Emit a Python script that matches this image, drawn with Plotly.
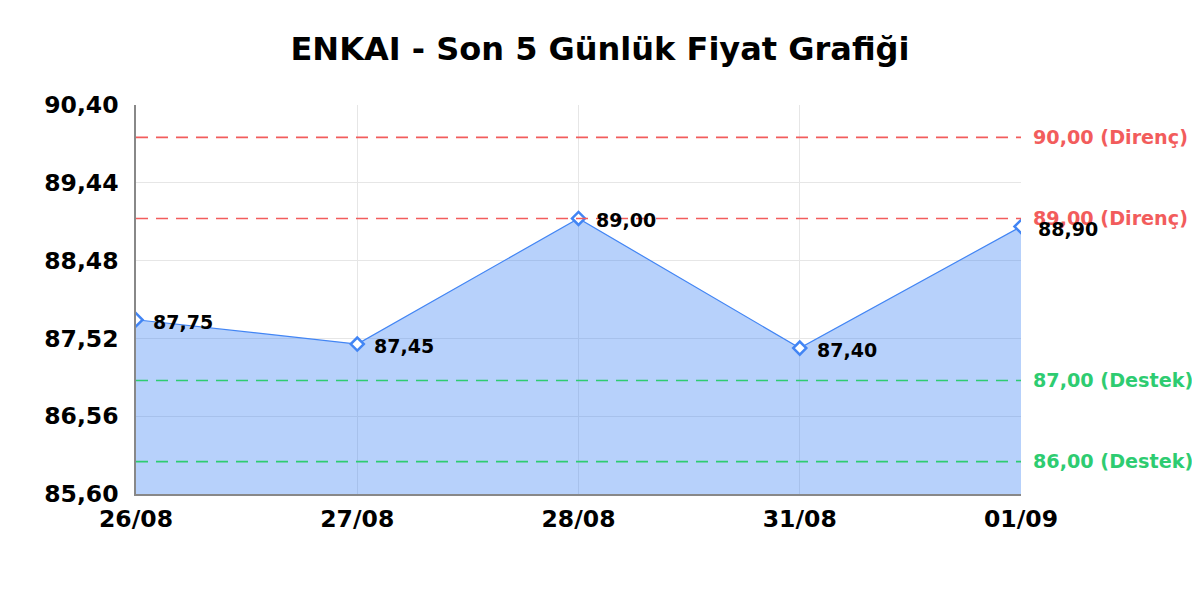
import plotly.graph_objects as go

dates = ["26/08", "27/08", "28/08", "31/08", "01/09"]
prices = [87.75, 87.45, 89.00, 87.40, 88.90]
resistance = [90.00, 89.00]
support = [87.00, 86.00]
y_ticks = [85.60, 86.56, 87.52, 88.48, 89.44, 90.40]

FONT = "DejaVu Sans"
RED = "#f25c5c"
GREEN = "#2ecc71"
BLUE = "#4285f4"

def tr(v):
    return f"{v:.2f}".replace(".", ",")

xs = list(range(len(dates)))

fig = go.Figure()
fig.add_trace(go.Scatter(
    x=xs, y=prices, mode="lines+markers",
    line=dict(color=BLUE, width=1.2),
    fill="tozeroy", fillcolor="rgba(66,133,244,0.38)",
    marker=dict(symbol="diamond", size=10, color="white",
                line=dict(color=BLUE, width=2.5)),
    hoverinfo="skip", showlegend=False,
))

shapes = []
annotations = []
for lvl in resistance:
    shapes.append(dict(type="line", xref="paper", x0=0, x1=1, yref="y", y0=lvl, y1=lvl,
                       line=dict(color=RED, width=1.6, dash="12px,8px"), layer="above"))
    annotations.append(dict(xref="paper", x=1, yref="y", y=lvl, xanchor="left", xshift=10,
                            text=f"<b>{tr(lvl)} (Direnç)</b>", showarrow=False,
                            font=dict(family=FONT, size=19.2, color=RED)))
for lvl in support:
    shapes.append(dict(type="line", xref="paper", x0=0, x1=1, yref="y", y0=lvl, y1=lvl,
                       line=dict(color=GREEN, width=1.6, dash="12px,8px"), layer="above"))
    annotations.append(dict(xref="paper", x=1, yref="y", y=lvl, xanchor="left", xshift=10,
                            text=f"<b>{tr(lvl)} (Destek)</b>", showarrow=False,
                            font=dict(family=FONT, size=19.2, color=GREEN)))
for x, p in zip(xs, prices):
    annotations.append(dict(x=x, y=p, xref="x", yref="y", xanchor="left", xshift=15, yshift=-2,
                            text=f"<b>{tr(p)}</b>", showarrow=False,
                            font=dict(family=FONT, size=19, color="black")))

fig.update_layout(
    width=1200, height=600,
    margin=dict(l=128, r=187, t=97, b=114),
    paper_bgcolor="white", plot_bgcolor="white",
    title=dict(text="<b>ENKAI - Son 5 Günlük Fiyat Grafiği</b>", x=(600 - 8) / 1200, xref="container",
               xanchor="center", y=1 - 41 / 600, yanchor="middle",
               font=dict(family=FONT, size=32, color="black")),
    shapes=shapes, annotations=annotations,
    xaxis=dict(range=[0, len(dates) - 1], tickvals=xs, ticktext=[f"<b>{d}</b>" for d in dates],
               showgrid=True, gridcolor="#e6e6e6", gridwidth=1,
               showline=True, linecolor="#888888", linewidth=1.5, zeroline=False,
               ticks="", tickfont=dict(family=FONT, size=23.5, color="black"),
               ticklabelstandoff=3),
    yaxis=dict(range=[y_ticks[0], y_ticks[-1]], tickvals=y_ticks,
               ticktext=[f"<b>{tr(v)}</b>" for v in y_ticks],
               showgrid=True, gridcolor="#e6e6e6", gridwidth=1,
               showline=True, linecolor="#888888", linewidth=1.5, zeroline=False,
               ticks="", tickfont=dict(family=FONT, size=23.5, color="black"),
               ticklabelstandoff=11),
)

fig.write_html("out.html")
